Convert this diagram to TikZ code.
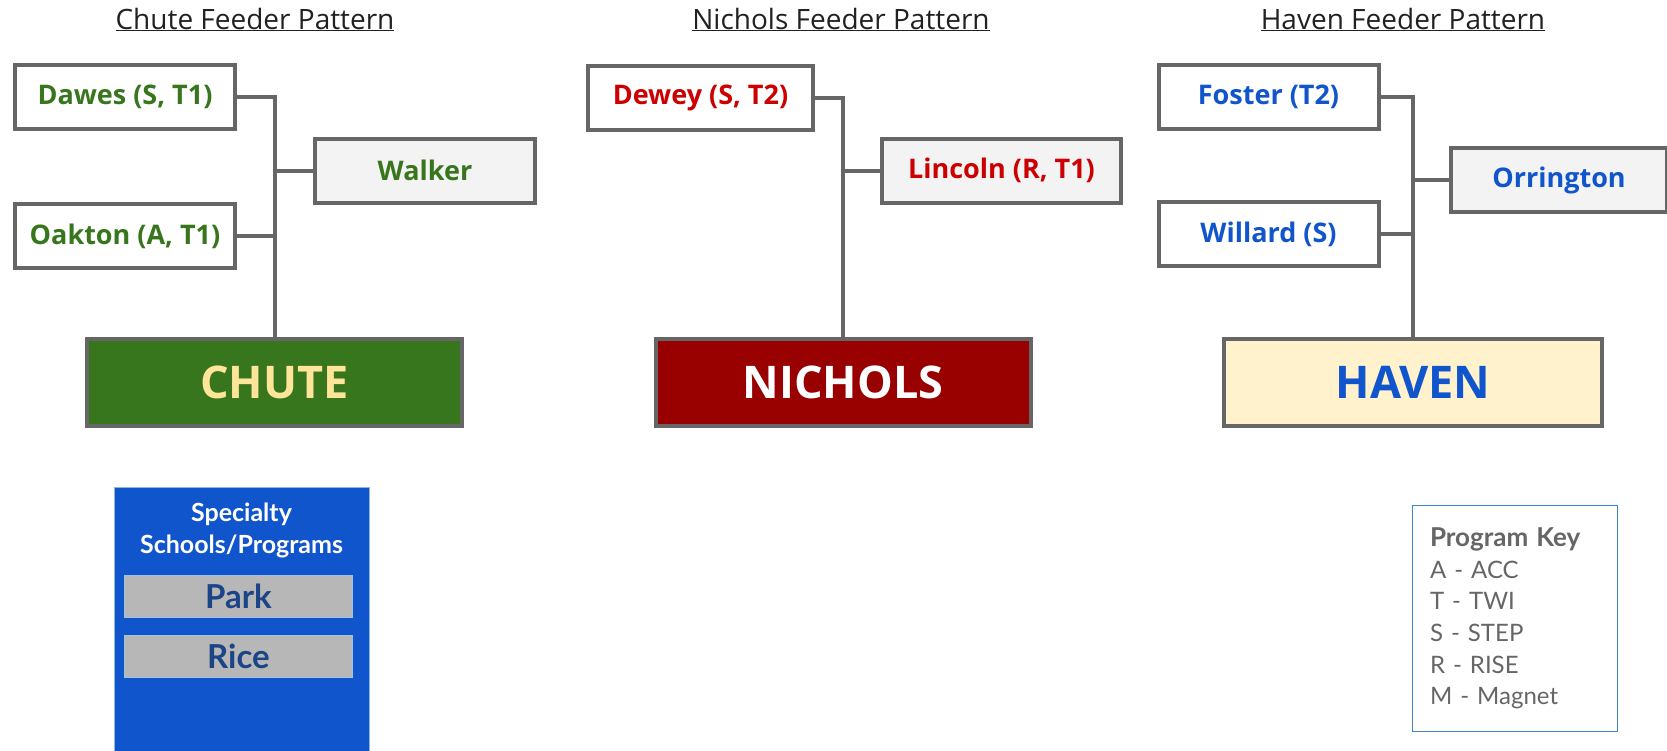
\documentclass[tikz,border=0pt]{standalone}
\usepackage{fontspec}
\setmainfont{Open Sans}
\newfontfamily\latofont{Lato}
\definecolor{edge}{HTML}{666666}
\definecolor{titleink}{HTML}{212121}
\definecolor{chutegreen}{HTML}{38761D}
\definecolor{chuteyellow}{HTML}{FFE599}
\definecolor{nicholsred}{HTML}{990000}
\definecolor{redink}{HTML}{CC0000}
\definecolor{havenblue}{HTML}{1155CC}
\definecolor{havencream}{HTML}{FFF2CC}
\definecolor{palegray}{HTML}{F3F3F3}
\definecolor{parkgray}{HTML}{B7B7B7}
\definecolor{navy}{HTML}{1C4587}
\definecolor{keyblue}{HTML}{3D85C6}
\definecolor{keyink}{HTML}{666666}
\begin{document}
\begin{tikzpicture}[x=1pt,y=1pt]
\tikzstyle{every node}+=[inner sep=0pt]
\tikzstyle{pattitle}=[anchor=base,text=titleink,font=\fontsize{28}{30}\selectfont]
\tikzstyle{feeder}=[draw=edge,line width=4pt,fill=white,minimum width=220pt,minimum height=64pt,font=\bfseries\fontsize{27}{30}\selectfont]
\tikzstyle{hub}=[draw=edge,line width=4pt,minimum width=375pt,minimum height=87pt,font=\bfseries\fontsize{45}{50}\selectfont]
\tikzstyle{wire}=[draw=edge,line width=4pt]
\tikzstyle{specbox}=[draw=keyblue!60,line width=1pt,fill=havenblue,minimum width=255pt,minimum height=270pt]
\tikzstyle{progbox}=[draw=keyblue!50,line width=1pt,fill=parkgray,minimum width=228pt,minimum height=42pt,text=navy,font=\latofont\bfseries\fontsize{33}{36}\selectfont]
\tikzstyle{keybox}=[draw=keyblue,line width=1.5pt,fill=white,minimum width=205pt,minimum height=226pt,text width=170pt,align=left,text=keyink,font=\latofont\fontsize{24}{31.6}\selectfont]
\useasboundingbox (0,0) rectangle (1667,-750);
\node[pattitle] (chutetitle) at (255,-29) {\underline{Chute Feeder Pattern}};
\node[pattitle] (nicholstitle) at (841,-29) {\underline{Nichols Feeder Pattern}};
\node[pattitle] (haventitle) at (1403,-29) {\underline{Haven Feeder Pattern}};
\node[feeder,text=chutegreen] (dawes) at (125,-97) {Dawes (S, T1)};
\node[feeder,fill=palegray,text=chutegreen] (walker) at (425,-170.5) {Walker};
\node[feeder,text=chutegreen] (oakton) at (125,-236) {Oakton (A, T1)};
\node[hub,fill=chutegreen,text=chuteyellow] (chute) at (274.5,-382.5) {CHUTE};
\draw[wire] (dawes.east) -| (chute.north);
\draw[wire] (walker.west) -| (chute.north);
\draw[wire] (oakton.east) -| (chute.north);
\node[feeder,minimum width=225pt,text=redink] (dewey) at (700.5,-97.5) {Dewey (S, T2)};
\node[feeder,minimum width=239pt,fill=palegray,text=redink] (lincoln) at (1001.5,-170.5) {Lincoln (R, T1)};
\node[hub,fill=nicholsred,text=white] (nichols) at (843,-382.5) {NICHOLS};
\draw[wire] (dewey.east) -| (nichols.north);
\draw[wire] (lincoln.west) -| (nichols.north);
\node[feeder,text=havenblue] (foster) at (1268.5,-96.5) {Foster (T2)};
\node[feeder,minimum width=216pt,fill=palegray,text=havenblue] (orrington) at (1559,-180) {Orrington};
\node[feeder,text=havenblue] (willard) at (1268.5,-234) {Willard (S)};
\node[hub,minimum width=378pt,fill=havencream,text=havenblue] (haven) at (1413,-382.5) {HAVEN};
\draw[wire] (foster.east) -| (haven.north);
\draw[wire] (orrington.west) -| (haven.north);
\draw[wire] (willard.east) -| (haven.north);
\node[specbox] (spec) at (241.5,-622) {};
\node[align=center,text=white,font=\latofont\bfseries\fontsize{25}{32}\selectfont] (spechead) at (241.5,-530) {Specialty\\Schools/Programs};
\node[progbox] (park) at (238.5,-596.5) {Park};
\node[progbox] (rice) at (238.5,-656.5) {Rice};
\node[keybox] (key) at (1515,-618.5) {{\bfseries\fontsize{26}{31.6}\selectfont Program Key}\\A - ACC\\T - TWI\\S - STEP\\R - RISE\\M - Magnet};
\end{tikzpicture}
\end{document}
